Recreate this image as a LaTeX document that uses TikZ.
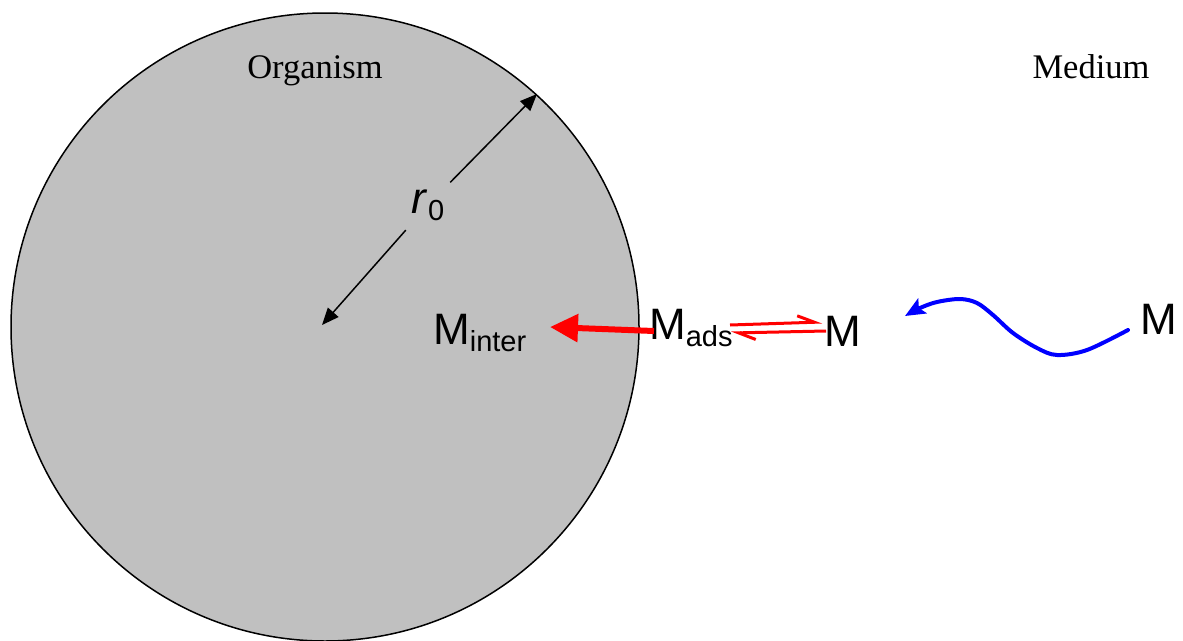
\documentclass[tikz,border=0pt]{standalone}
\usepackage{fontspec}
\setmainfont{Liberation Serif}
\setsansfont{Liberation Sans}
\usetikzlibrary{arrows.meta}
\tikzset{
  serlabel/.style={font=\fontsize{34.5}{40}\selectfont, anchor=base, inner sep=0pt},
  species/.style={font=\sffamily\fontsize{44}{50}\selectfont, anchor=base west, inner sep=0pt},
  dimarrow/.style={line width=1.5pt, -{Triangle[length=17pt,width=14pt]}},
  uptake/.style={red, line width=6pt, -{Triangle[length=28pt,width=27pt]}},
  harp/.style={red, line width=3pt, -{Straight Barb[left,length=17pt,width=14pt]}},
  transport/.style={blue, line width=4pt, line cap=round, -{Stealth[length=20pt,width=17pt,inset=4pt]}}
}
\newcommand{\subtxt}[1]{\raisebox{-7pt}{\fontsize{29}{33}\selectfont #1}}
\begin{document}
\begin{tikzpicture}[x=1pt,y=-1pt]
\useasboundingbox (0,0) rectangle (1183,640);
% organism
\coordinate (ctr) at (325,327);
\draw[line width=1.5pt, fill={rgb,255:red,192;green,192;blue,192}] (ctr) circle[radius=314];
\node[serlabel] (org) at (315,78) {Organism};
\node[serlabel] (med) at (1091,78) {Medium};
% radius
\node[font=\sffamily\fontsize{44}{50}\selectfont, inner sep=0pt, minimum width=44pt, minimum height=60pt] (r0) at (428,205) {\textit{r}\subtxt{0}};
\coordinate (rim) at (537,94);
\coordinate (cen) at (322,325);
\draw[dimarrow] (r0) -- (rim);
\draw[dimarrow] (r0) -- (cen);
% species
\node[species] (minter) at (433,344) {M\subtxt{inter}};
\node[species] (mads) at (649,339) {M\subtxt{ads}};
\node[species] (mmid) at (824,346) {M};
\node[species] (mfar) at (1140,334) {M};
% uptake arrow
\coordinate (upS) at (654,331);
\coordinate (upT) at (550,327);
\draw[uptake] (upS) -- (upT);
% equilibrium
\coordinate (e1s) at (730,325);
\coordinate (e1t) at (822,322);
\coordinate (e2s) at (826,331);
\coordinate (e2t) at (731,333);
\draw[harp] (e1s) -- (e1t);
\draw[harp] (e2s) -- (e2t);
% transport
\coordinate (tS) at (1128,330);
\coordinate (tT) at (905,316);
\draw[transport] plot[smooth, tension=0.55] coordinates {(tS) (1087,350) (1057,355) (1037,348) (1013,333) (993,315) (977,303) (960,299) (937,302) (920,308) (tT)};
\end{tikzpicture}
\end{document}
